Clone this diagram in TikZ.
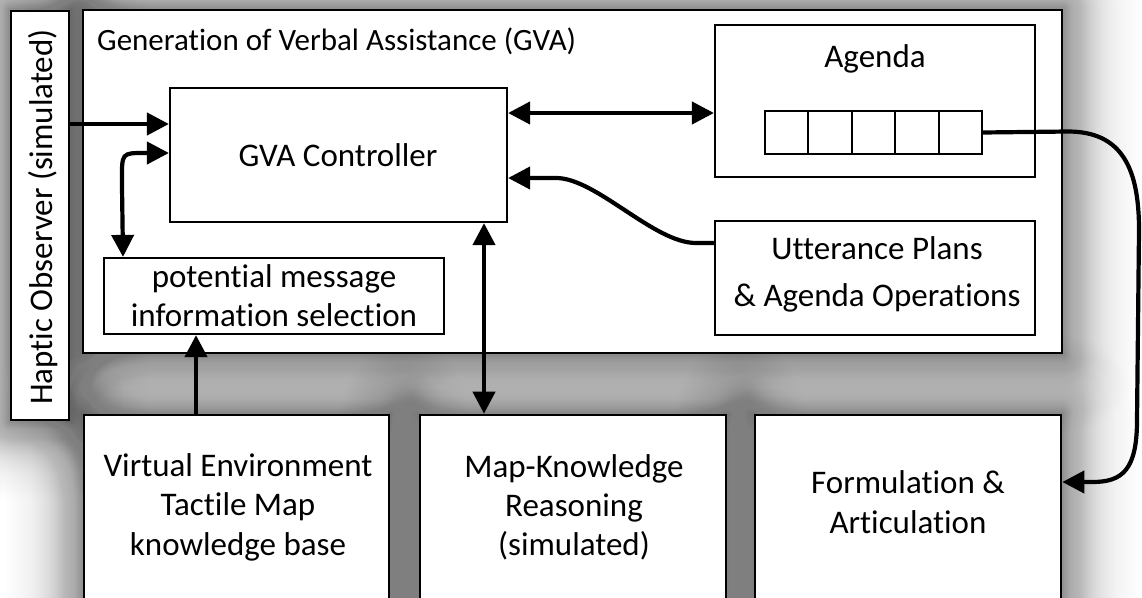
\documentclass[tikz,border=0pt]{standalone}
\usepackage{fontspec}
\setmainfont{Carlito}[Ligatures=NoCommon]
\usetikzlibrary{arrows.meta,calc,backgrounds}
\begin{document}
\begin{tikzpicture}[x=1pt,y=-1pt,
  outer/.style={draw=black, line width=2.6pt, fill=white, inner sep=0pt},
  inner/.style={draw=black, line width=2.2pt, fill=white, inner sep=0pt},
  cell/.style={draw=black, line width=2pt, fill=white, inner sep=0pt, minimum width=43.4pt, minimum height=43pt},
  txt/.style={font=\fontsize{33}{40}\selectfont, inner sep=0pt, anchor=base},
  title/.style={font=\fontsize{31}{38}\selectfont, inner sep=0pt, anchor=base west},
  arr/.style={line width=4.2pt, -{Triangle[length=22pt,width=22pt]}},
  biarr/.style={line width=4.2pt, {Triangle[length=22pt,width=22pt]}-{Triangle[length=22pt,width=22pt]}}
]
\useasboundingbox (0,0) rectangle (1142,597);
\clip (0,0) rectangle (1142,597);

% outer boxes
\node[outer, minimum width=58pt, minimum height=409pt] (haptic) at (40,215.5) {};
\node[outer, minimum width=979pt, minimum height=343pt] (gva) at (572.5,181.5) {};
\node[outer, minimum width=305pt, minimum height=205pt] (virt) at (236.5,517.5) {};
\node[outer, minimum width=306pt, minimum height=205pt] (map) at (573,517.5) {};
\node[outer, minimum width=306pt, minimum height=205pt] (form) at (908,517.5) {};

% soft (gaussian-like) shadows
\begin{scope}[on background layer]
\foreach \n in {haptic,gva,virt,map,form}{
  \foreach \k in {1,...,55}{
    \pgfmathsetmacro\r{2*\k}
    \pgfmathsetmacro\op{1-(1-0.85/(1+exp(1.702*(\r-1)/36)))/(1-0.85/(1+exp(1.702*(\r+1)/36)))}
    \fill[black, fill opacity=\op, rounded corners=\r pt]
      ($(\n.north west)+(-\r,-\r)$) rectangle ($(\n.south east)+(\r,\r)$);
  }
}
\end{scope}

% inner boxes
\node[inner, minimum width=337pt, minimum height=134pt] (ctrl) at (338.5,155) {};
\node[inner, minimum width=320pt, minimum height=152pt] (agenda) at (875,101) {};
\node[inner, minimum width=320pt, minimum height=114pt] (utt) at (875,278) {};
\node[inner, minimum width=340pt, minimum height=76pt] (pot) at (274,296) {};
\foreach \i in {1,...,5}
  \node[cell] (c\i) at ({765+43.4*(\i-0.5)},132.5) {};

% texts
\node[title] (tgva) at (97,50) {Generation of Verbal Assistance (GVA)};
\node[txt] (tag) at (875,67) {Agenda};
\node[txt] (tctrl) at (338,166) {GVA Controller};
\node[txt] (tp1) at (274,287) {potential message};
\node[txt] (tp2) at (274,326) {information selection};
\node[txt] (tu1) at (877,259) {Utterance Plans};
\node[txt] (tu2) at (877,306) {\& Agenda Operations};
\node[txt] (tv1) at (238,476) {Virtual Environment};
\node[txt] (tv2) at (238,515) {Tactile Map};
\node[txt] (tv3) at (238,555) {knowledge base};
\node[txt] (tm1) at (574,477) {Map-Knowledge};
\node[txt] (tm2) at (574,516) {Reasoning};
\node[txt] (tm3) at (574,555) {(simulated)};
\node[txt] (tf1) at (908,493) {Formulation \&};
\node[txt] (tf2) at (908,533) {Articulation};
\node[txt, rotate=90] (th) at (52,217) {Haptic Observer (simulated)};

% connectors
\coordinate (yH) at (0,124);
\coordinate (yA) at (0,113);
\coordinate (yP) at (0,153);
\coordinate (xP) at (123,0);
\coordinate (xM) at (484,0);
\coordinate (xV) at (196,0);
\coordinate (yU1) at (0,243);
\coordinate (yU2) at (0,178);
\coordinate (yF) at (0,482);

\draw[arr] (haptic.east |- yH) -- (ctrl.west |- yH);
\draw[biarr] (ctrl.east |- yA) -- (agenda.west |- yA);
\draw[biarr] (ctrl.south -| xM) -- (map.north -| xM);
\draw[arr] (virt.north -| xV) -- (pot.south -| xV);
\draw[biarr] (pot.north -| xP) -- ($(ctrl.west |- yP)+(-47,27)$) .. controls ($(ctrl.west |- yP)+(-47,0)$) .. ($(ctrl.west |- yP)+(-25,0)$) -- (ctrl.west |- yP);
\draw[arr] (utt.west |- yU1) -- ++(-18,0) .. controls +(-42,0) and +(40,0) .. ($(ctrl.east |- yU2)+(48,0)$) -- (ctrl.east |- yU2);
\draw[arr] (c5.east) -- ++(85,-1) .. controls +(55,0) and +(0,-60) .. (1139,230) -- (1137,420) .. controls +(0,50) and +(30,0) .. ($(form.east |- yF)+(30,0)$) -- (form.east |- yF);
\end{tikzpicture}
\end{document}
